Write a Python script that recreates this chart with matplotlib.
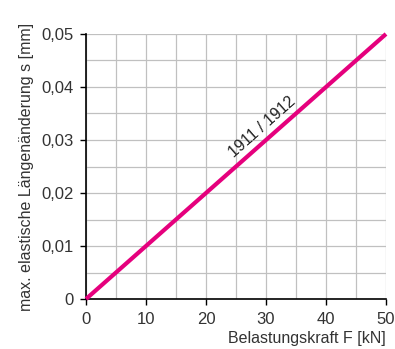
import matplotlib
matplotlib.use("Agg")
import matplotlib.pyplot as plt
from matplotlib.ticker import MultipleLocator, FuncFormatter

plt.rcParams['font.family'] = ['Liberation Sans', 'DejaVu Sans']

force = [0, 50]
elong = [0, 0.05]
x_ticks = [0, 10, 20, 30, 40, 50]
y_ticks = [0, 0.01, 0.02, 0.03, 0.04, 0.05]
label = "1911 / 1912"

fig = plt.figure(figsize=(3.95, 3.49), dpi=100)
ax = fig.add_axes([86/395, 1-299/349, 300/395, 265/349])
ax.set_xlim(0, 50)
ax.set_ylim(0, 0.05)
ax.xaxis.set_minor_locator(MultipleLocator(5))
ax.yaxis.set_minor_locator(MultipleLocator(0.005))
ax.set_xticks(x_ticks)
ax.set_yticks(y_ticks)
ax.yaxis.set_major_formatter(FuncFormatter(lambda v, p: "0" if v == 0 else f"{v:.2f}".replace('.', ',')))
ax.grid(which='both', color='#c0c0c0', linewidth=0.9)
ax.set_axisbelow(True)
for s in ['top', 'right']:
    ax.spines[s].set_visible(False)
for s in ['left', 'bottom']:
    ax.spines[s].set_color('black')
    ax.spines[s].set_linewidth(1.2)
    ax.spines[s].set_zorder(3)
ax.tick_params(which='major', direction='out', length=4, width=1, color='black',
               labelsize=12, labelcolor='#333333', pad=5)
ax.tick_params(which='minor', length=0)
ax.plot(force, elong, color='#e5007d', linewidth=3, solid_capstyle='butt', zorder=4, clip_on=False)
ax.text(29.3, 0.0325, label, rotation=41.5, ha='center', va='center', fontsize=11.5, color='#222222',
        rotation_mode='anchor')
ax.set_xlabel("Belastungskraft F [kN]", fontsize=11.5, color='#333333', ha='right', x=1.0, labelpad=3)
ax.set_ylabel("max. elastische Längenänderung s [mm]", fontsize=11.5, color='#333333', labelpad=5)
fig.savefig("out.png", dpi=100)
